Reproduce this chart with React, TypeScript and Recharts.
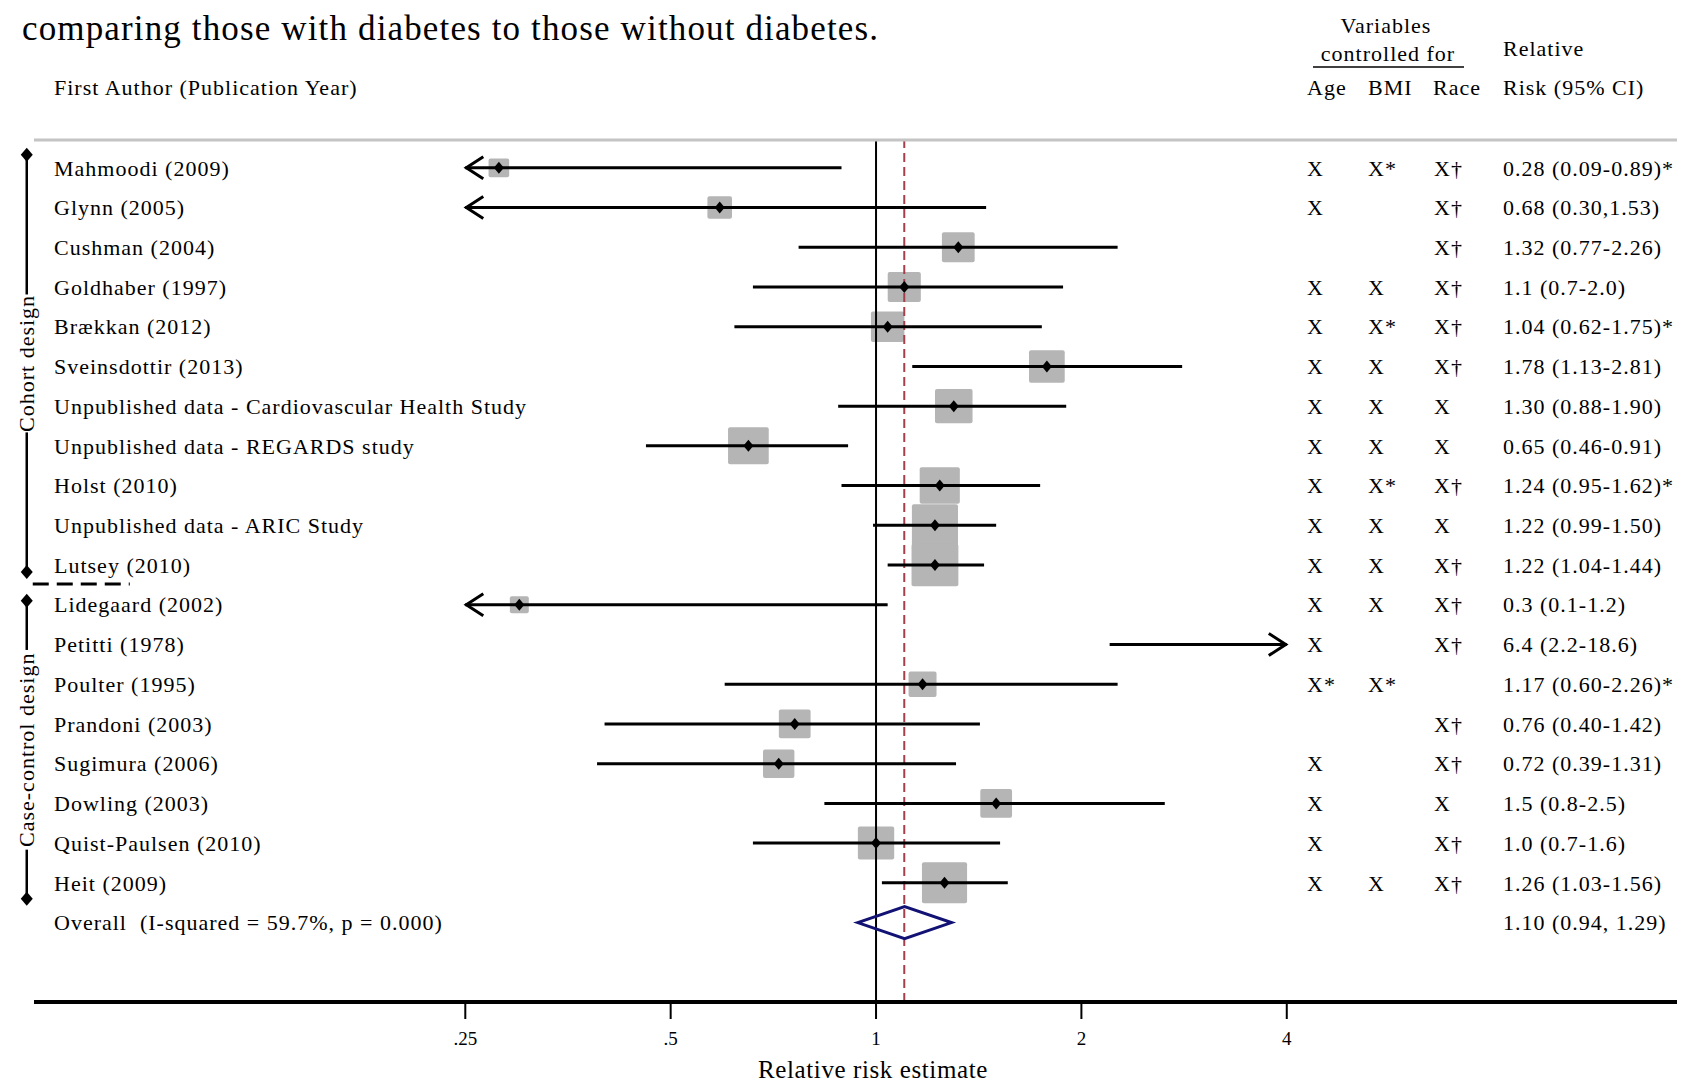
import { ScatterChart, Scatter, XAxis, YAxis, ReferenceLine } from 'recharts';

const FONT = "'Liberation Serif', 'Times New Roman', serif";

const studies = [
  'Mahmoodi (2009)',
  'Glynn (2005)',
  'Cushman (2004)',
  'Goldhaber (1997)',
  'Brækkan (2012)',
  'Sveinsdottir (2013)',
  'Unpublished data - Cardiovascular Health Study',
  'Unpublished data - REGARDS study',
  'Holst (2010)',
  'Unpublished data - ARIC Study',
  'Lutsey (2010)',
  'Lidegaard (2002)',
  'Petitti (1978)',
  'Poulter (1995)',
  'Prandoni (2003)',
  'Sugimura (2006)',
  'Dowling (2003)',
  'Quist-Paulsen (2010)',
  'Heit (2009)',
];

const ageCtl = ['X', 'X', '', 'X', 'X', 'X', 'X', 'X', 'X', 'X', 'X', 'X', 'X', 'X*', '', 'X', 'X', 'X', 'X'];
const bmiCtl = ['X*', '', '', 'X', 'X*', 'X', 'X', 'X', 'X*', 'X', 'X', 'X', '', 'X*', '', '', '', '', 'X'];
const raceCtl = ['X†', 'X†', 'X†', 'X†', 'X†', 'X†', 'X', 'X', 'X†', 'X', 'X†', 'X†', 'X†', '', 'X†', 'X†', 'X', 'X†', 'X†'];

const rrText = [
  '0.28 (0.09-0.89)*',
  '0.68 (0.30,1.53)',
  '1.32 (0.77-2.26)',
  '1.1 (0.7-2.0)',
  '1.04 (0.62-1.75)*',
  '1.78 (1.13-2.81)',
  '1.30 (0.88-1.90)',
  '0.65 (0.46-0.91)',
  '1.24 (0.95-1.62)*',
  '1.22 (0.99-1.50)',
  '1.22 (1.04-1.44)',
  '0.3 (0.1-1.2)',
  '6.4 (2.2-18.6)',
  '1.17 (0.60-2.26)*',
  '0.76 (0.40-1.42)',
  '0.72 (0.39-1.31)',
  '1.5 (0.8-2.5)',
  '1.0 (0.7-1.6)',
  '1.26 (1.03-1.56)',
];

// plotted values
const estimate = [0.28, 0.59, 1.32, 1.1, 1.04, 1.78, 1.3, 0.65, 1.24, 1.22, 1.22, 0.3, 6.4, 1.17, 0.76, 0.72, 1.5, 1.0, 1.26];
const lower = [0.09, 0.23, 0.77, 0.66, 0.62, 1.13, 0.88, 0.46, 0.89, 0.99, 1.04, 0.1, 2.2, 0.6, 0.4, 0.39, 0.84, 0.66, 1.02];
const upper = [0.89, 1.45, 2.26, 1.88, 1.75, 2.81, 1.9, 0.91, 1.74, 1.5, 1.44, 1.04, 18.6, 2.26, 1.42, 1.31, 2.65, 1.52, 1.56];
const weight = [1.9, 2.7, 4.8, 4.9, 5.0, 5.7, 6.3, 7.4, 7.2, 9.5, 9.8, 1.6, 1.4, 3.5, 4.5, 4.4, 4.5, 5.9, 9.1];

const overallLabel = 'Overall  (I-squared = 59.7%, p = 0.000)';
const overallText = '1.10 (0.94, 1.29)';
const overallEst = 1.1;
const overallLo = 0.94;
const overallHi = 1.29;

const xTicks = [0.25, 0.5, 1, 2, 4];
const xTickLabels = ['.25', '.5', '1', '2', '4'];
const plotMin = 0.25;
const plotMax = 4;

const groupLabels = ['Cohort design', 'Case-control design'];
const groupFirst = [0, 11];
const groupLast = [10, 18];

const rows = studies.map((name, i) => ({
  name,
  row: i,
  est: estimate[i],
  lo: lower[i],
  hi: upper[i],
  weight: weight[i],
}));
const shown = rows.filter((r) => r.est >= plotMin && r.est <= plotMax);
// one text line per row, anchored on the reference value so it sits inside the domain
const textRows = [...rows.map((r) => ({ row: r.row, est: 1 })), { row: rows.length, est: 1 }];

const COL = { label: 54, age: 1307, bmi: 1368, race: 1434, rr: 1503 };
const textStyle = { fontFamily: FONT, fontSize: 22, letterSpacing: '1px', whiteSpace: 'pre' as const };

function RowText(props: any) {
  const { cy, payload } = props;
  const i = payload.row;
  const isOverall = i === studies.length;
  return (
    <g fill="#000">
      <text x={COL.label} y={cy} dy="0.35em" style={textStyle}>{isOverall ? overallLabel : studies[i]}</text>
      {!isOverall && <text x={COL.age} y={cy} dy="0.35em" style={textStyle}>{ageCtl[i]}</text>}
      {!isOverall && <text x={COL.bmi} y={cy} dy="0.35em" style={textStyle}>{bmiCtl[i]}</text>}
      {!isOverall && <text x={COL.race} y={cy} dy="0.35em" style={textStyle}>{raceCtl[i]}</text>}
      <text x={COL.rr} y={cy} dy="0.35em" style={textStyle}>{isOverall ? overallText : rrText[i]}</text>
    </g>
  );
}

function WeightBox(props: any) {
  const { cx, cy, payload } = props;
  const h = 13.6 * Math.sqrt(payload.weight);
  const w = h * 1.1;
  return <rect x={cx - w / 2} y={cy - h / 2} width={w} height={h} rx={2} fill="#b5b5b5" />;
}

function PointMark(props: any) {
  const { cx, cy } = props;
  return <polygon points={`${cx},${cy - 6} ${cx + 5},${cy} ${cx},${cy + 6} ${cx - 5},${cy}`} fill="#000" />;
}

function CiLine(props: any) {
  const { x1, y1, x2, left, right } = props;
  return (
    <g stroke="#000" strokeWidth={3} fill="none">
      <line x1={x1} y1={y1} x2={x2} y2={y1} />
      {left && <polyline points={`${x1 + 18},${y1 - 11} ${x1 + 1},${y1} ${x1 + 18},${y1 + 11}`} />}
      {right && <polyline points={`${x2 - 18},${y1 - 11} ${x2 - 1},${y1} ${x2 - 18},${y1 + 11}`} />}
    </g>
  );
}

function OverallDiamond(props: any) {
  const { x1, y1, x2 } = props;
  const mid = (x1 + x2) / 2;
  return (
    <polygon
      points={`${x1},${y1} ${mid},${y1 - 16} ${x2},${y1} ${mid},${y1 + 16}`}
      fill="none"
      stroke="#121275"
      strokeWidth={3}
    />
  );
}

const bracketTopPad = [13, 4];
const bracketBottomPad = [7, 16];

function Bracket(props: any) {
  const { x1, y1, y2, idx } = props;
  const top = y1 - bracketTopPad[idx];
  const bottom = y2 + bracketBottomPad[idx];
  const mid = (top + bottom) / 2;
  const label = groupLabels[idx];
  const half = label.length * 5.15 + 2;
  const dia = (yy: number) => `${x1},${yy - 7} ${x1 + 6},${yy} ${x1},${yy + 7} ${x1 - 6},${yy}`;
  return (
    <g>
      <line x1={x1} y1={top} x2={x1} y2={mid - half} stroke="#000" strokeWidth={2.5} />
      <line x1={x1} y1={mid + half} x2={x1} y2={bottom} stroke="#000" strokeWidth={2.5} />
      <polygon points={dia(top)} fill="#000" />
      <polygon points={dia(bottom)} fill="#000" />
      <text
        x={x1}
        y={mid}
        dy="0.35em"
        textAnchor="middle"
        transform={`rotate(-90 ${x1} ${mid})`}
        style={textStyle}
        fill="#000"
      >
        {label}
      </text>
      {idx === 0 && (
        <line x1={x1 + 6} y1={bottom + 12} x2={x1 + 103} y2={bottom + 12} stroke="#000" strokeWidth={3} strokeDasharray="16 8" />
      )}
    </g>
  );
}

const BRACKET_X = 0.0569;

export default function App() {
  return (
    <div style={{ position: 'relative', width: 1690, height: 1086, background: '#fff' }}>
      <style>{'body{margin:0;overflow:hidden}'}</style>
      <ScatterChart width={1690} height={1086} margin={{ top: 140, right: 13, bottom: 0, left: 34 }}>
        <XAxis
          type="number"
          dataKey="est"
          scale="log"
          domain={[0.05831, 14.93]}
          allowDataOverflow
          ticks={xTicks}
          interval={0}
          tickFormatter={(v: number) => xTickLabels[xTicks.indexOf(v)]}
          height={84}
          tickSize={17}
          tickMargin={13}
          axisLine={{ stroke: '#000', strokeWidth: 4 }}
          tickLine={{ stroke: '#000', strokeWidth: 2 }}
          tick={{ fill: '#000', fontFamily: FONT, fontSize: 19 }}
        />
        <YAxis type="number" dataKey="row" domain={[-0.7, 21]} reversed allowDataOverflow hide />
        <ReferenceLine y={-0.7} stroke="#c4c4c4" strokeWidth={3} />
        <Scatter data={shown} isAnimationActive={false} shape={<WeightBox />} zIndex={100} />
        <ReferenceLine x={1} stroke="#000" strokeWidth={2} zIndex={200} />
        <ReferenceLine x={overallEst} stroke="#a3404c" strokeWidth={2} strokeDasharray="9 5" zIndex={200} />
        {rows.map((r) => (
          <ReferenceLine
            key={`ci-${r.row}`}
            zIndex={300}
            segment={[
              { x: Math.max(r.lo, plotMin), y: r.row },
              { x: Math.min(r.hi, plotMax), y: r.row },
            ]}
            shape={(p: any) => <CiLine {...p} left={r.lo < plotMin} right={r.hi > plotMax} />}
          />
        ))}
        <Scatter data={shown} isAnimationActive={false} shape={<PointMark />} zIndex={400} />
        <ReferenceLine
          zIndex={500}
          segment={[
            { x: overallLo, y: studies.length },
            { x: overallHi, y: studies.length },
          ]}
          shape={(p: any) => <OverallDiamond {...p} />}
        />
        <Scatter data={textRows} isAnimationActive={false} shape={<RowText />} zIndex={500} />
        {groupLabels.map((g, idx) => (
          <ReferenceLine
            key={g}
            ifOverflow="visible"
            segment={[
              { x: BRACKET_X, y: groupFirst[idx] },
              { x: BRACKET_X, y: groupLast[idx] },
            ]}
            shape={(p: any) => <Bracket {...p} idx={idx} />}
          />
        ))}
      </ScatterChart>
      <svg
        width={1690}
        height={1086}
        style={{ position: 'absolute', left: 0, top: 0, pointerEvents: 'none' }}
      >
        <g fill="#000" fontFamily={FONT}>
          <text x={22} y={40} fontSize={35} textLength={856} lengthAdjust="spacing">
            comparing those with diabetes to those without diabetes.
          </text>
          <text x={COL.label} y={95} style={textStyle}>First Author (Publication Year)</text>
          <text x={1386} y={33} textAnchor="middle" style={textStyle}>Variables</text>
          <text x={1388} y={61} textAnchor="middle" style={textStyle}>controlled for</text>
          <line x1={1313} y1={67} x2={1464} y2={67} stroke="#000" strokeWidth={1.5} />
          <text x={COL.rr} y={56} style={textStyle}>Relative</text>
          <text x={COL.age} y={95} style={textStyle}>Age</text>
          <text x={COL.bmi} y={95} style={textStyle}>BMI</text>
          <text x={COL.race - 1} y={95} style={textStyle}>Race</text>
          <text x={COL.rr} y={95} style={textStyle}>Risk (95% CI)</text>
          <text x={873} y={1078} textAnchor="middle" fontSize={25} style={{ letterSpacing: '0.6px' }}>
            Relative risk estimate
          </text>
        </g>
      </svg>
    </div>
  );
}
